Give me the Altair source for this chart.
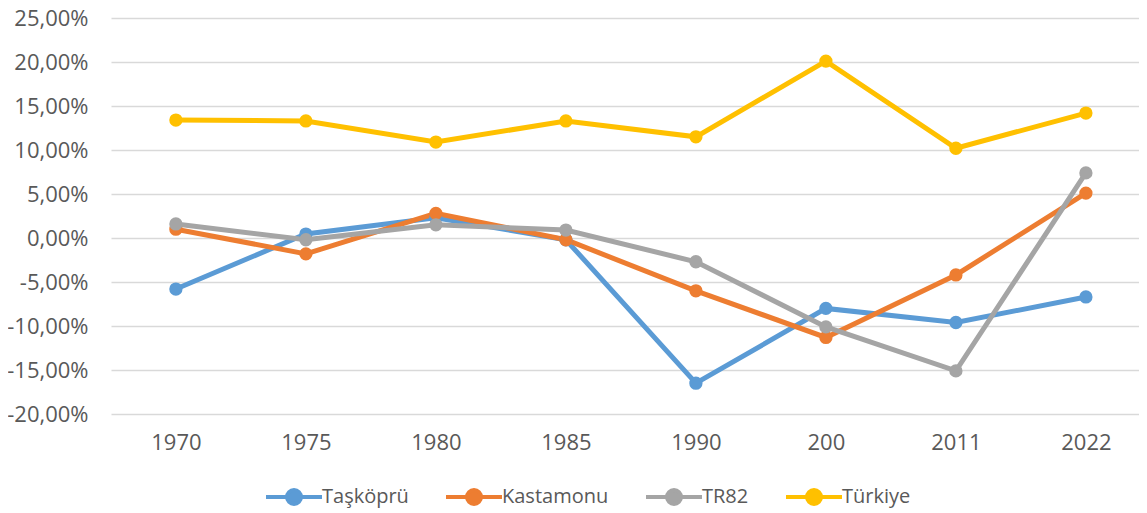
import altair as alt
import pandas as pd

years = ["1970", "1975", "1980", "1985", "1990", "200", "2011", "2022"]
series = ["Taşköprü", "Kastamonu", "TR82", "Türkiye"]
colors = ["#5B9BD5", "#ED7D31", "#A5A5A5", "#FFC000"]

taskopru = [-5.8, 0.45, 2.3, -0.2, -16.5, -8.0, -9.6, -6.7]
kastamonu = [1.0, -1.8, 2.8, -0.2, -6.0, -11.3, -4.2, 5.1]
tr82 = [1.6, -0.2, 1.5, 0.9, -2.7, -10.1, -15.1, 7.4]
turkiye = [13.4, 13.3, 10.9, 13.3, 11.5, 20.1, 10.2, 14.2]

values = {"Taşköprü": taskopru, "Kastamonu": kastamonu, "TR82": tr82, "Türkiye": turkiye}
rows = []
for s in series:
    for i, (yr, v) in enumerate(zip(years, values[s])):
        rows.append({"year": yr, "series": s, "value": v / 100.0, "order": i})
df = pd.DataFrame(rows)

FONT = "Open Sans"
LABEL_COLOR = "#595959"

# line with a dot in the middle; drawn in a [-4,4] box so the nominal symbol is small
legend_path = "M-4,0L4,0M-1,0A1,1,0,1,0,1,0A1,1,0,1,0,-1,0Z"

color_scale = alt.Scale(domain=series, range=colors)

x_enc = alt.X("year:N", sort=years, title=None,
              scale=alt.Scale(padding=0.4538, align=0.55),
              axis=alt.Axis(labelAngle=0, domain=False, ticks=False, grid=False,
                            labelFont=FONT, labelFontSize=22, labelColor=LABEL_COLOR,
                            labelPadding=18))
y_enc = alt.Y("value:Q", title=None,
              scale=alt.Scale(domain=[-0.2, 0.25], nice=False, zero=False),
              axis=alt.Axis(values=[-0.2, -0.15, -0.1, -0.05, 0, 0.05, 0.1, 0.15, 0.2, 0.25],
                            labelExpr="replace(replace(format(datum.value, '.2%'), '.', ','), '\u2212', '-')",
                            domain=False, ticks=False, grid=True, gridColor="#D9D9D9", gridWidth=1.5,
                            labelFont=FONT, labelFontSize=22, labelColor=LABEL_COLOR,
                            labelPadding=23))

legend = alt.Legend(orient="none", direction="horizontal", title=None,
                    legendX=173, legendY=469,
                    symbolType=legend_path, symbolSize=196,
                    symbolStrokeWidth=4,
                    labelFont=FONT, labelFontSize=20, labelColor=LABEL_COLOR,
                    labelOffset=18, columnPadding=29, symbolOffset=0)

lines = alt.Chart(df).mark_line(strokeWidth=5).encode(
    x=x_enc, y=y_enc,
    color=alt.Color("series:N", scale=color_scale, sort=series, legend=legend),
    detail="series:N",
    order="order:Q",
)

points = alt.Chart(df).mark_point(filled=True, size=177, opacity=1).encode(
    x=x_enc, y=y_enc,
    color=alt.Color("series:N", scale=color_scale, sort=series, legend=legend),
)

chart = alt.layer(lines, points).properties(
    width=1028, height=396,
    padding={"left": 103, "top": 10, "right": 0, "bottom": 96},
    autosize=alt.AutoSizeParams(type="none"),
    background="white",
).configure_view(stroke=None)

chart.save("out.html", embed_options={"renderer": "svg", "actions": False})
